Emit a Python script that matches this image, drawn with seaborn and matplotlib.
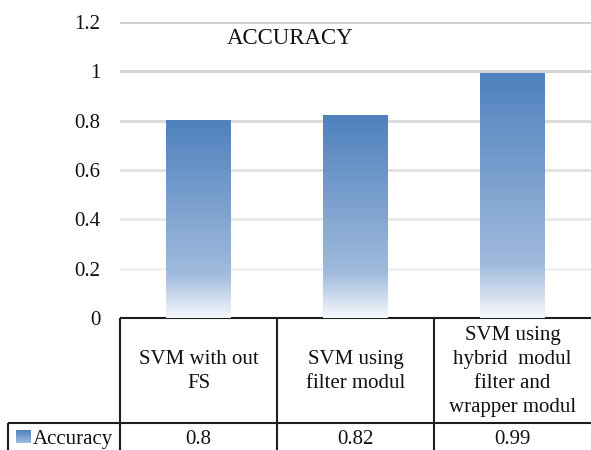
import numpy as np
import pandas as pd
import matplotlib
matplotlib.use("Agg")
import matplotlib.pyplot as plt
import seaborn as sns
from matplotlib.colors import LinearSegmentedColormap

# ---- data ----
categories = ["SVM with out\nFS", "SVM using\nfilter modul",
              "SVM using\nhybrid  modul\nfilter and\nwrapper modul"]
accuracy = [0.8, 0.82, 0.99]
value_labels = ["0.8", "0.82", "0.99"]
series_name = "Accuracy"
title = "ACCURACY"
yticks = [0, 0.2, 0.4, 0.6, 0.8, 1.0, 1.2]
ytick_labels = ["0", "0.2", "0.4", "0.6", "0.8", "1", "1.2"]

df = pd.DataFrame({"cat": categories, "val": accuracy})

sns.set_theme(style="white")
plt.rcParams["font.family"] = ["Liberation Serif", "DejaVu Serif"]

FS = 15

fig = plt.figure(figsize=(5.91, 4.5), dpi=100)
ax = fig.add_axes([120/591, 1-318/450, 1-120/591, (318-22)/450])

sns.barplot(data=df, x="cat", y="val", ax=ax, width=0.41, color="#4F81BD",
            saturation=1)

cmap = LinearSegmentedColormap.from_list(
    "grad", [(0.0, "#F6F8FC"), (0.22, "#A0BBDD"), (1.0, "#4F81BD")])
grad = np.linspace(0, 1, 256).reshape(-1, 1)

for p in ax.patches:
    x, w, h = p.get_x(), p.get_width(), p.get_height()
    ax.imshow(grad, extent=[x, x + w, 0, h], origin="lower", aspect="auto",
              cmap=cmap, zorder=3, interpolation="bilinear")
    p.set_visible(False)

ax.set_xlim(-0.5, 2.5)
ax.set_ylim(0, 1.2)
ax.set_yticks(yticks)
ax.set_yticklabels(ytick_labels, fontsize=FS, color="#111111")
ax.set_xticks([])
ax.set_xlabel("")
ax.set_ylabel("")
ax.tick_params(axis="y", length=0, pad=14)
for s in ax.spines.values():
    s.set_visible(False)

# gridlines fading towards bottom
gcols = ["#FFFFFF", "#F0F0F0", "#E8E8E8", "#E0E0E0", "#D8D8D8", "#D2D2D2", "#CCCCCC"]
for yv, c in zip(yticks, gcols):
    if yv > 0:
        ax.axhline(yv, color=c, lw=2.0, zorder=1)

ax.text(0.361, 0.945, title, transform=ax.transAxes, ha="center", va="center",
        fontsize=16.5, color="#111111")

# ---- data table ----
lc = "#1E1E1E"
lw = 1.5
T = ax.transAxes
y_hdr = -(423 - 318) / 296
y_bot = -0.47
x_left = (8 - 120) / 471
kw = dict(transform=T, clip_on=False, color=lc, lw=lw, solid_capstyle="butt")
ax.plot([0, 1], [0, 0], **kw)
ax.plot([x_left, 1], [y_hdr, y_hdr], **kw)
for xv in [0, 1/3, 2/3]:
    ax.plot([xv, xv], [0, y_bot], **kw)
ax.plot([x_left, x_left], [y_hdr, y_bot], **kw)

for i, (cat, v) in enumerate(zip(categories, value_labels)):
    xc = (i + 0.5) / 3
    ax.text(xc, -0.18, cat, transform=T, ha="center", va="center",
            fontsize=FS, linespacing=1.36, color="#111111", clip_on=False)
    ax.text(xc, -0.41, v, transform=T, ha="center", va="center",
            fontsize=FS, color="#111111", clip_on=False)

ax.text((33 - 120) / 471, -0.41, series_name, transform=T, ha="left",
        va="center", fontsize=FS, color="#111111", clip_on=False)
ax.imshow(np.linspace(0, 1, 64).reshape(-1, 1), origin="lower",
          cmap=LinearSegmentedColormap.from_list("k", ["#A0BBDD", "#4F81BD"]),
          extent=[(16 - 120) / 471, (31 - 120) / 471,
                  -(443 - 318) / 296, -(430 - 318) / 296],
          aspect="auto", transform=T, clip_on=False, zorder=5)
ax.set_xlim(-0.5, 2.5)
ax.set_ylim(0, 1.2)

fig.savefig("out.png", dpi=100)
